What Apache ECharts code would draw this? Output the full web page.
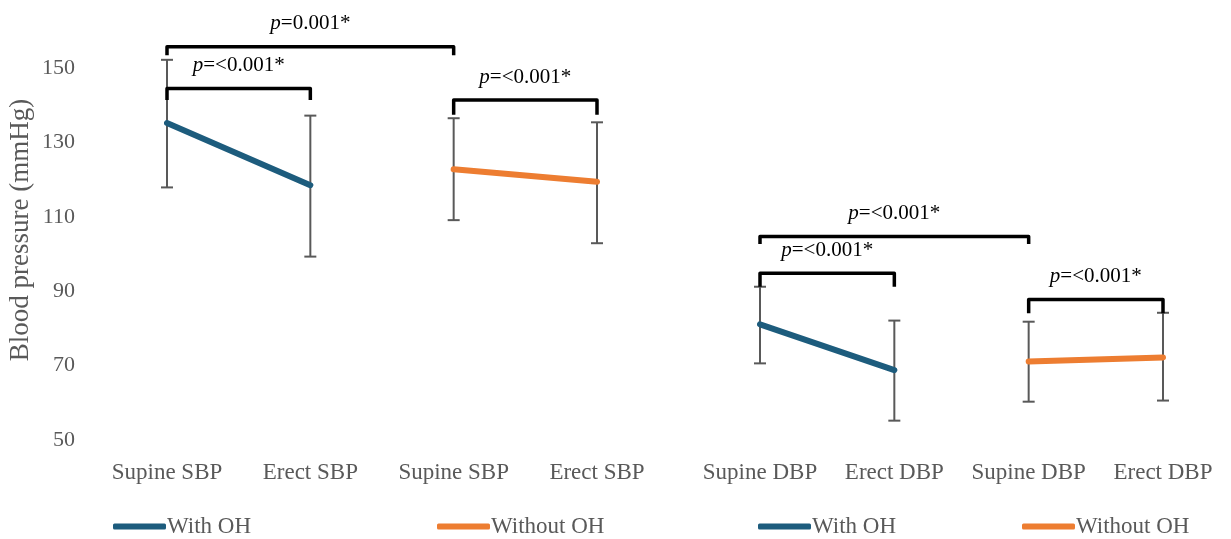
<!DOCTYPE html>
<html>
<head>
<meta charset="utf-8">
<script src="https://cdn.jsdelivr.net/npm/echarts@6/dist/echarts.min.js"></script>
<style>
  html, body { margin: 0; padding: 0; background: #fff; }
  #chart { width: 1231px; height: 539px; }
</style>
</head>
<body>
<div id="chart"></div>
<script>
// 分类（两张小图：收缩压 / 舒张压）
var sbpCategories = ['Supine SBP', 'Erect SBP', 'Supine SBP', 'Erect SBP'];
var dbpCategories = ['Supine DBP', 'Erect DBP', 'Supine DBP', 'Erect DBP'];

// 均值
var sbpWithOH = [135.2, 118.5, '-', '-'];
var sbpWithoutOH = ['-', '-', 122.8, 119.4];
var dbpWithOH = [81.1, 68.8, '-', '-'];
var dbpWithoutOH = ['-', '-', 71.1, 72.2];

// 误差线上下限
var sbpLow = [117.9, 99.3, 109.1, 102.9];
var sbpHigh = [152.2, 137.2, 136.5, 135.4];
var dbpLow = [70.6, 55.2, 60.3, 60.6];
var dbpHigh = [91.2, 82.1, 81.8, 84.2];

// 显著性括号：起点分类, 终点分类, 横线值, 下垂端值
var sbpBrackets = [[0, 2, 155.7, 153.4], [0, 1, 144.5, 141.4], [2, 3, 141.4, 137.4]];
var sbpBracketText = ['0.001*', '<0.001*', '<0.001*'];
var dbpBrackets = [[0, 2, 104.7, 102.7], [0, 1, 94.8, 91.2], [2, 3, 87.8, 84.1]];
var dbpBracketText = ['<0.001*', '<0.001*', '<0.001*'];

var yTicks = [50, 70, 90, 110, 130, 150];

var FONT = 'Liberation Serif';
var GRAY = '#595959';
var BLUE = '#1d5c7d';
var ORANGE = '#ed7d31';

function errorData(low, high) {
  return low.map(function (v, i) { return [i, v, high[i]]; });
}

function renderError(params, api) {
  var top = api.coord([api.value(0), api.value(2)]);
  var bot = api.coord([api.value(0), api.value(1)]);
  var cap = 6;
  var st = { stroke: GRAY, lineWidth: 2 };
  return {
    type: 'group',
    children: [
      { type: 'line', shape: { x1: top[0], y1: top[1], x2: bot[0], y2: bot[1] }, style: st },
      { type: 'line', shape: { x1: top[0] - cap, y1: top[1], x2: top[0] + cap, y2: top[1] }, style: st },
      { type: 'line', shape: { x1: bot[0] - cap, y1: bot[1], x2: bot[0] + cap, y2: bot[1] }, style: st }
    ]
  };
}

function bracketRenderer(texts) {
  return function (params, api) {
    var a = api.coord([api.value(0), api.value(2)]);
    var b = api.coord([api.value(1), api.value(2)]);
    var d = api.coord([api.value(0), api.value(3)]);
    return {
      type: 'group',
      children: [
        {
          type: 'polyline',
          shape: { points: [[a[0], d[1]], [a[0], a[1]], [b[0], b[1]], [b[0], d[1]]] },
          style: { stroke: '#000', lineWidth: 3.5, fill: null, lineJoin: 'round' }
        },
        {
          type: 'text',
          style: {
            x: (a[0] + b[0]) / 2,
            y: a[1] - 23,
            align: 'center',
            verticalAlign: 'middle',
            text: '{i|p}{n|=' + texts[params.dataIndex] + '}',
            rich: {
              i: { fontFamily: FONT, fontSize: 21, fontStyle: 'italic', fill: '#000' },
              n: { fontFamily: FONT, fontSize: 21, fill: '#000' }
            }
          }
        }
      ]
    };
  };
}

function lineSeries(name, data, color, idx) {
  return {
    name: name,
    type: 'line',
    xAxisIndex: idx,
    yAxisIndex: idx,
    data: data,
    showSymbol: false,
    symbol: 'none',
    z: 3,
    lineStyle: { color: color, width: 6, cap: 'round' },
    itemStyle: { color: color }
  };
}

function legendAt(name, left) {
  return {
    data: [name],
    left: left,
    top: 515,
    padding: 0,
    icon: 'roundRect',
    itemWidth: 53,
    itemHeight: 6,
    itemGap: 0,
    textStyle: { fontFamily: FONT, fontSize: 23, color: GRAY, padding: [0, 0, 0, -4] }
  };
}

var chart = echarts.init(document.getElementById('chart'));

var yAxisBase = {
  type: 'value',
  min: 50,
  max: 150,
  interval: 20,
  axisLine: { show: false },
  axisTick: { show: false },
  splitLine: { show: false }
};

var xAxisBase = {
  type: 'category',
  boundaryGap: false,
  axisLine: { show: false },
  axisTick: { show: false },
  splitLine: { show: false },
  axisLabel: { fontFamily: FONT, fontSize: 23, color: GRAY, margin: 21, interval: 0 }
};

var option = {
  animation: false,
  backgroundColor: '#fff',
  grid: [
    { left: 167, width: 430, top: 68, height: 372, outerBoundsMode: 'none', containLabel: false },
    { left: 760, width: 403, top: 68, height: 372, outerBoundsMode: 'none', containLabel: false }
  ],
  xAxis: [
    Object.assign({}, xAxisBase, { gridIndex: 0, data: sbpCategories }),
    Object.assign({}, xAxisBase, { gridIndex: 1, data: dbpCategories })
  ],
  yAxis: [
    Object.assign({}, yAxisBase, {
      gridIndex: 0,
      name: 'Blood pressure (mmHg)',
      nameLocation: 'middle',
      nameRotate: 90,
      nameGap: 133,
      nameTextStyle: { fontFamily: FONT, fontSize: 27, color: GRAY, padding: [0, 0, 0, 48] },
      axisLabel: {
        fontFamily: FONT, fontSize: 22, color: GRAY, margin: 92,
        customValues: yTicks
      }
    }),
    Object.assign({}, yAxisBase, { gridIndex: 1, axisLabel: { show: false } })
  ],
  legend: [
    legendAt('With OH', 113),
    legendAt('Without OH', 437),
    legendAt('With OH', 758),
    legendAt('Without OH', 1022)
  ],
  series: [
    {
      type: 'custom', name: 'sbp-err', xAxisIndex: 0, yAxisIndex: 0, z: 2, clip: false,
      renderItem: renderError, data: errorData(sbpLow, sbpHigh), silent: true
    },
    {
      type: 'custom', name: 'dbp-err', xAxisIndex: 1, yAxisIndex: 1, z: 2, clip: false,
      renderItem: renderError, data: errorData(dbpLow, dbpHigh), silent: true
    },
    lineSeries('With OH', sbpWithOH, BLUE, 0),
    lineSeries('Without OH', sbpWithoutOH, ORANGE, 0),
    lineSeries('With OH', dbpWithOH, BLUE, 1),
    lineSeries('Without OH', dbpWithoutOH, ORANGE, 1),
    {
      type: 'custom', name: 'sbp-brackets', xAxisIndex: 0, yAxisIndex: 0, z: 4, clip: false,
      renderItem: bracketRenderer(sbpBracketText), data: sbpBrackets, silent: true
    },
    {
      type: 'custom', name: 'dbp-brackets', xAxisIndex: 1, yAxisIndex: 1, z: 4, clip: false,
      renderItem: bracketRenderer(dbpBracketText), data: dbpBrackets, silent: true
    }
  ]
};

chart.setOption(option);
</script>
</body>
</html>
